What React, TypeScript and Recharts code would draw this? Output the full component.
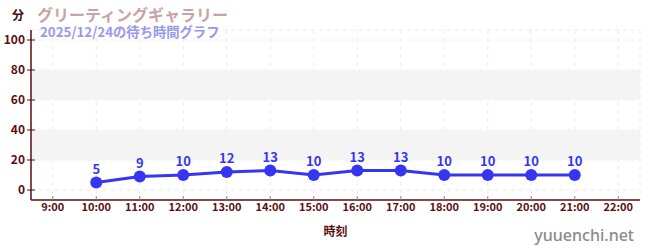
import React from "react"
import {
  LineChart,
  Line,
  XAxis,
  YAxis,
  CartesianGrid,
  ReferenceArea,
  LabelList
} from "recharts"

const hours = [10, 11, 12, 13, 14, 15, 16, 17, 18, 19, 20, 21]
const waits = [5, 9, 10, 12, 13, 10, 13, 13, 10, 10, 10, 10]
const xTicks = [9, 10, 11, 12, 13, 14, 15, 16, 17, 18, 19, 20, 21, 22]
const yTicks = [0, 20, 40, 60, 80, 100]
const yMinorTicks = [10, 30, 50, 70, 90]
const bands = [
  [20, 40],
  [60, 80]
]

const data = hours.map((h, i) => ({ hour: h, wait: waits[i] }))

const AXIS = "#5a0f0f"
const BLUE = "#3636f2"
const FONT = "'Noto Sans CJK JP', 'Noto Sans', sans-serif"

const YTick = (props: any) => {
  const { x, y, payload } = props
  return (
    <g>
      <line x1={x + 2} x2={x + 10} y1={y} y2={y} stroke={AXIS} strokeWidth={1} />
      <text
        x={x}
        y={y}
        dy={4}
        textAnchor="end"
        fill={AXIS}
        fontSize={12}
        fontWeight={600}
        fontFamily={FONT}
      >
        {payload.value}
      </text>
    </g>
  )
}

export default function App() {
  return (
    <div
      style={{
        position: "absolute",
        left: 0,
        top: 0,
        width: 650,
        height: 250,
        background: "#fff",
        fontFamily: FONT
      }}
    >
      <LineChart
        width={650}
        height={250}
        data={data}
        margin={{ top: 30, right: 10, bottom: 20, left: 0 }}
      >
        {bands.map(([a, b]) => (
          <ReferenceArea
            key={a}
            y1={a}
            y2={b}
            yAxisId="main"
            fill="#f4f4f4"
            fillOpacity={1}
            stroke="none"
          />
        ))}
        <CartesianGrid
          yAxisId="main"
          strokeDasharray="4 4"
          stroke="#ececec"
        />
        <XAxis
          dataKey="hour"
          type="number"
          domain={[8.5, 22.5]}
          ticks={xTicks}
          allowDataOverflow
          tickFormatter={(h) => `${h}:00`}
          axisLine={{ stroke: AXIS, strokeWidth: 1.5 }}
          tickLine={{ stroke: "#888" }}
          tickSize={-4}
          tickMargin={7}
          tick={{ fill: AXIS, fontSize: 11, fontWeight: 600, fontFamily: FONT }}
          label={{
            value: "時刻",
            position: "insideBottom",
            offset: -6,
            fill: AXIS,
            fontSize: 12,
            fontWeight: 600,
            fontFamily: FONT
          }}
        />
        <YAxis
          yAxisId="main"
          width={31}
          domain={[-20 / 3, 320 / 3]}
          ticks={yTicks}
          allowDataOverflow
          axisLine={{ stroke: AXIS, strokeWidth: 1.5 }}
          tickLine={false}
          tickSize={4}
          tickMargin={2}
          tick={<YTick />}
        />
        <YAxis
          yAxisId="minor"
          width={0}
          domain={[-20 / 3, 320 / 3]}
          ticks={yMinorTicks}
          allowDataOverflow
          axisLine={false}
          tickLine={{ stroke: "#d01010" }}
          tickSize={4}
          tick={false}
        />
        <Line
          yAxisId="main"
          dataKey="wait"
          stroke={BLUE}
          strokeWidth={3}
          dot={{ r: 6, fill: BLUE, stroke: BLUE, strokeWidth: 0 }}
          isAnimationActive={false}
        >
          <LabelList
            dataKey="wait"
            position="top"
            offset={9}
            fill={BLUE}
            fontSize={13}
            fontWeight={700}
            fontFamily={FONT}
          />
        </Line>
      </LineChart>
      <div
        style={{
          position: "absolute",
          left: 12,
          top: 8,
          fontSize: 12,
          fontWeight: 700,
          color: "#4a0a0a",
          lineHeight: "14px"
        }}
      >
        分
      </div>
      <div
        style={{
          position: "absolute",
          left: 37,
          top: 6,
          fontSize: 16,
          fontWeight: 700,
          color: "#c9a3a3",
          lineHeight: "17px"
        }}
      >
        グリーティングギャラリー
      </div>
      <div
        style={{
          position: "absolute",
          left: 40,
          top: 25,
          fontSize: 13.3,
          fontWeight: 700,
          color: "#9999ee",
          lineHeight: "14px"
        }}
      >
        2025/12/24の待ち時間グラフ
      </div>
      <div
        style={{
          position: "absolute",
          right: 16,
          top: 224,
          fontSize: 16,
          fontWeight: 500,
          color: "#8a8a8a",
          lineHeight: "22px",
          fontFamily: "'Noto Sans', sans-serif"
        }}
      >
        yuuenchi.net
      </div>
    </div>
  )
}
